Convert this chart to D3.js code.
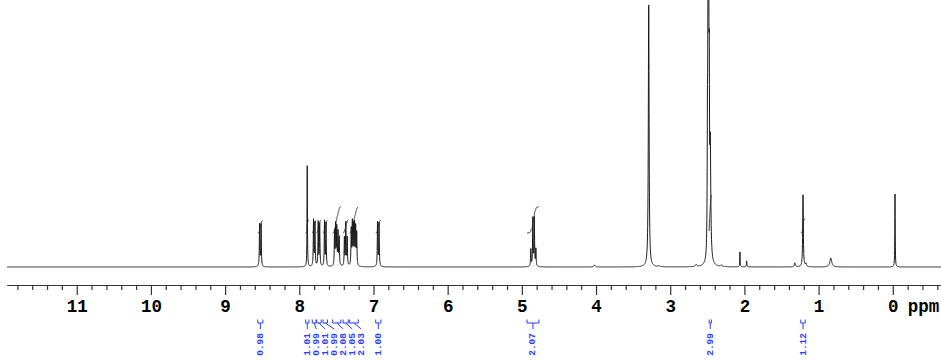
<!DOCTYPE html>
<html><head><meta charset="utf-8">
<script src="https://cdn.jsdelivr.net/npm/d3@7"></script>
<style>body{margin:0;background:#fff}svg{display:block}</style>
</head><body>
<script>
// ---- spectrum peaks (ppm, intensity, half width in ppm) ----
const peakPpm = [
  8.535, 8.515,
  7.893,
  7.808, 7.789,
  7.745, 7.725,
  7.660, 7.640,
  7.525, 7.510, 7.495, 7.478, 7.462,
  7.392, 7.373, 7.354,
  7.300, 7.285, 7.270, 7.255, 7.240, 7.226,
  6.945, 6.925,
  4.879, 4.852, 4.832, 4.811,
  4.02,
  3.29, 3.15,
  2.65, 2.498, 2.490, 2.482, 2.474, 2.460, 2.31,
  2.06, 1.97,
  1.32, 1.21, 1.17, 0.835,
  -0.03
];
const peakHeight = [
  42, 42,
  101,
  46, 43,
  44, 42,
  45, 43,
  34, 40, 37, 33, 28,
  28, 43, 28,
  36, 42, 38, 40, 37, 32,
  44, 43,
  17, 48, 48, 17,
  2,
  262, 1,
  2, 110, 245, 255, 140, 110, 1.5,
  15, 6,
  4, 72, 3, 9,
  73
];
const peakWidth = [
  0.004, 0.004,
  0.003,
  0.004, 0.004,
  0.004, 0.004,
  0.004, 0.004,
  0.004, 0.004, 0.004, 0.004, 0.004,
  0.004, 0.004, 0.004,
  0.004, 0.004, 0.004, 0.004, 0.004, 0.004,
  0.004, 0.004,
  0.004, 0.004, 0.004, 0.004,
  0.01,
  0.006, 0.01,
  0.01, 0.004, 0.004, 0.004, 0.004, 0.008, 0.01,
  0.003, 0.004,
  0.008, 0.005, 0.008, 0.015,
  0.003
];

// ---- integrals ----
const intFrom  = [8.56, 7.915, 7.825, 7.765, 7.680, 7.550, 7.410, 7.320, 6.970, 4.93, 2.475, 1.24];
const intTo    = [8.49, 7.870, 7.775, 7.705, 7.620, 7.440, 7.340, 7.205, 6.900, 4.77, 2.445, 1.18];
const intValue = [0.98, 1.01, 0.99, 1.01, 0.99, 2.08, 1.05, 2.03, 1.00, 2.07, 2.99, 1.12];

// ---- axis ticks ----
const majorTicks = [11, 10, 9, 8, 7, 6, 5, 4, 3, 2, 1, 0];
const minorStep = 0.2;
const axisUnit = "ppm";

const W = 941, H = 361;
const svg = d3.select("body").append("svg").attr("width", W).attr("height", H);

const x = d3.scaleLinear().domain([11.94, -0.65]).range([7, 941]);
const y = d3.scaleLinear().domain([0, 262]).range([267, 5]);

function lor(p) {
  let s = 0;
  for (let i = 0; i < peakPpm.length; i++) {
    const d = p - peakPpm[i], w = peakWidth[i];
    s += peakHeight[i] * w * w / (w * w + d * d);
  }
  return s;
}

// sample ppm grid + exact peak centres
const [dMax, dMin] = x.domain();
let grid = d3.range(dMin, dMax, 0.0015);
grid = grid.concat(peakPpm).sort((a, b) => b - a);
const spec = grid.map(p => [p, lor(p)]);

const line = d3.line().x(d => x(d[0])).y(d => y(d[1]));
svg.append("path").datum(spec)
  .attr("d", line).attr("fill", "none")
  .attr("stroke", "#1a1a1a").attr("stroke-width", 1);

// integral curves
const intBase = 34, perH = 12.7;
const blue = "#2b3cff";
intFrom.forEach((f, i) => {
  const t = intTo[i];
  const pts = d3.range(f, t, -0.0008);
  let acc = 0; const cum = [];
  pts.forEach(p => { acc += lor(p); cum.push(acc); });
  const tot = acc || 1;
  const data = pts.map((p, k) => [p, intBase + intValue[i] * perH * cum[k] / tot]);
  svg.append("path").datum(data).attr("d", line)
    .attr("fill", "none").attr("stroke", "#222").attr("stroke-width", 0.9);
});

// axis
const axisY = 285;
const minorTicks = d3.range(-0.6, 11.95, minorStep).map(v => Math.round(v * 10) / 10)
  .filter(v => !majorTicks.includes(v));
const gMinor = svg.append("g").attr("transform", `translate(0,${axisY})`)
  .call(d3.axisBottom(x).tickValues(minorTicks).tickSize(5).tickSizeOuter(0).tickFormat(""));
const gMajor = svg.append("g").attr("transform", `translate(0,${axisY})`)
  .call(d3.axisBottom(x).tickValues(majorTicks).tickSize(10).tickSizeOuter(0).tickPadding(5).tickFormat(d3.format("d")));
[gMinor, gMajor].forEach(g => {
  g.select(".domain").attr("stroke", "#333").attr("stroke-width", 1.2);
  g.selectAll(".tick line").attr("stroke", "#333").attr("stroke-width", 1.2);
});
gMajor.selectAll(".tick text")
  .attr("font-family", "Liberation Mono, Courier New, monospace")
  .attr("font-weight", "bold").attr("font-size", 17.5).attr("fill", "#000");
svg.append("text").attr("x", x(0) + 15).attr("y", axisY + 15).attr("dy", "0.71em")
  .attr("font-family", "Liberation Mono, Courier New, monospace")
  .attr("font-weight", "bold").attr("font-size", 17.5).text(axisUnit);

// integral labels: push right to avoid overlap
const centres = intFrom.map((f, i) => x((f + intTo[i]) / 2));
const labX = [];
const minGap = 9;
centres.forEach((c, i) => { labX.push(i === 0 ? c : Math.max(c, labX[i - 1] + minGap)); });

const bTop = 319.5, bBot = 323, lTop = 329, txtEnd = 333;
intFrom.forEach((f, i) => {
  const x1 = x(f), x2 = x(intTo[i]), xc = centres[i], xl = labX[i];
  const g = svg.append("g").attr("stroke", blue).attr("fill", "none").attr("stroke-width", 1);
  g.append("path").attr("d", `M${x1},${bTop}V${bBot}H${x2}V${bTop}`);
  g.append("path").attr("d", `M${xc},${bBot}L${xl},${lTop}`);
  svg.append("text")
    .attr("transform", `translate(${xl},${txtEnd}) rotate(-90)`)
    .attr("text-anchor", "end").attr("dominant-baseline", "central")
    .attr("font-family", "Liberation Mono, Courier New, monospace")
    .attr("font-size", 9.5).attr("font-weight", "bold").attr("fill", blue)
    .text(d3.format(".2f")(intValue[i]));
});
</script>
</body></html>
